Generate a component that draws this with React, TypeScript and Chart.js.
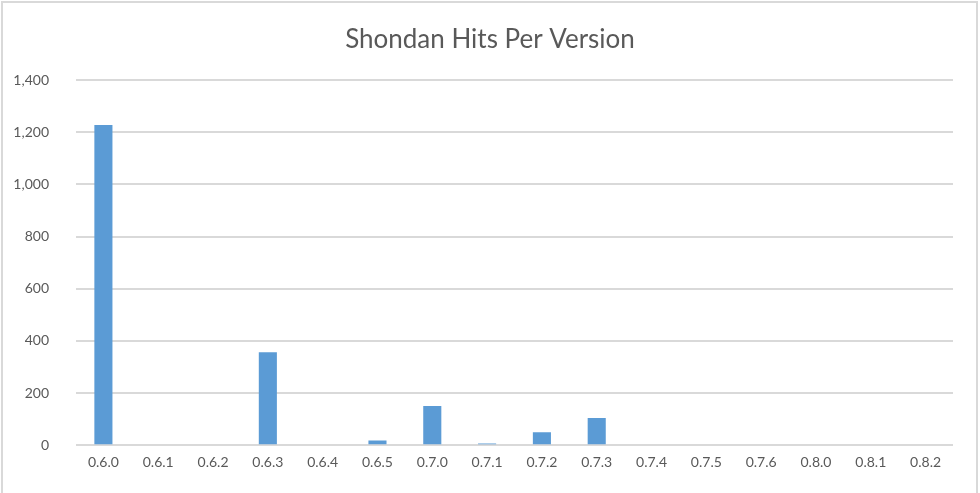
import React, { useEffect, useRef } from "react";
import { Chart, registerables } from "chart.js";

Chart.register(...registerables);

const versions = [
  "0.6.0", "0.6.1", "0.6.2", "0.6.3", "0.6.4", "0.6.5", "0.7.0", "0.7.1",
  "0.7.2", "0.7.3", "0.7.4", "0.7.5", "0.7.6", "0.8.0", "0.8.1", "0.8.2",
];
const hits = [1228, 0, 0, 357, 0, 18, 150, 7, 50, 104, 0, 0, 0, 0, 0, 0];
const titleText = "Shondan Hits Per Version";

export default function App() {
  const ref = useRef<HTMLCanvasElement | null>(null);
  useEffect(() => {
    document.body.style.margin = "0";
    const ctx = ref.current!.getContext("2d")!;
    const chart = new Chart(ctx, {
      type: "bar",
      data: {
        labels: versions,
        datasets: [
          {
            label: "Hits",
            data: hits,
            backgroundColor: "#5b9bd5",
            barPercentage: 0.33,
            categoryPercentage: 1,
          },
        ],
      },
      options: {
        animation: false,
        responsive: false,
        maintainAspectRatio: false,
        layout: { padding: { left: 0, right: 0, top: 0, bottom: 13 } },
        plugins: {
          legend: { display: false },
          tooltip: { enabled: false },
          title: {
            display: true,
            text: titleText,
            color: "#595959",
            font: { family: "Lato, 'Open Sans', sans-serif", size: 26, weight: "normal" },
            padding: { top: 24, bottom: 25 },
          },
        },
        scales: {
          x: {
            grid: { display: false, drawTicks: false },
            border: { display: false },
            ticks: {
              color: "#595959",
              font: { family: "Lato, 'Open Sans', sans-serif", size: 14 },
              padding: 9,
              maxRotation: 0,
              autoSkip: false,
            },
          },
          y: {
            min: 0,
            max: 1400,
            grid: { color: "#d9d9d9", lineWidth: 2, drawTicks: false },
            border: { display: false },
            ticks: {
              stepSize: 200,
              color: "#595959",
              font: { family: "Lato, 'Open Sans', sans-serif", size: 14 },
              padding: 27,
              callback: (v: any) => Number(v).toLocaleString("en-US"),
            },
            afterFit: (s: any) => {
              s.width = 76;
            },
          },
          yRight: {
            position: "right",
            min: 0,
            max: 1400,
            grid: { display: false, drawTicks: false },
            border: { display: false },
            ticks: { display: false },
            afterFit: (s: any) => {
              s.width = 27;
            },
          },
        },
      },
    });
    return () => chart.destroy();
  }, []);
  return (
    <div style={{ position: "absolute", left: 0, top: 0, width: 980, height: 493, background: "#fff" }}>
      <canvas ref={ref} width={980} height={493} style={{ display: "block" }} />
      <div
        style={{
          position: "absolute",
          left: 1,
          top: 1,
          width: 977,
          height: 493,
          boxSizing: "border-box",
          borderLeft: "2px solid #d9d9d9",
          borderTop: "2px solid #d9d9d9",
          borderRight: "2px solid #d9d9d9",
          pointerEvents: "none",
        }}
      />
    </div>
  );
}
